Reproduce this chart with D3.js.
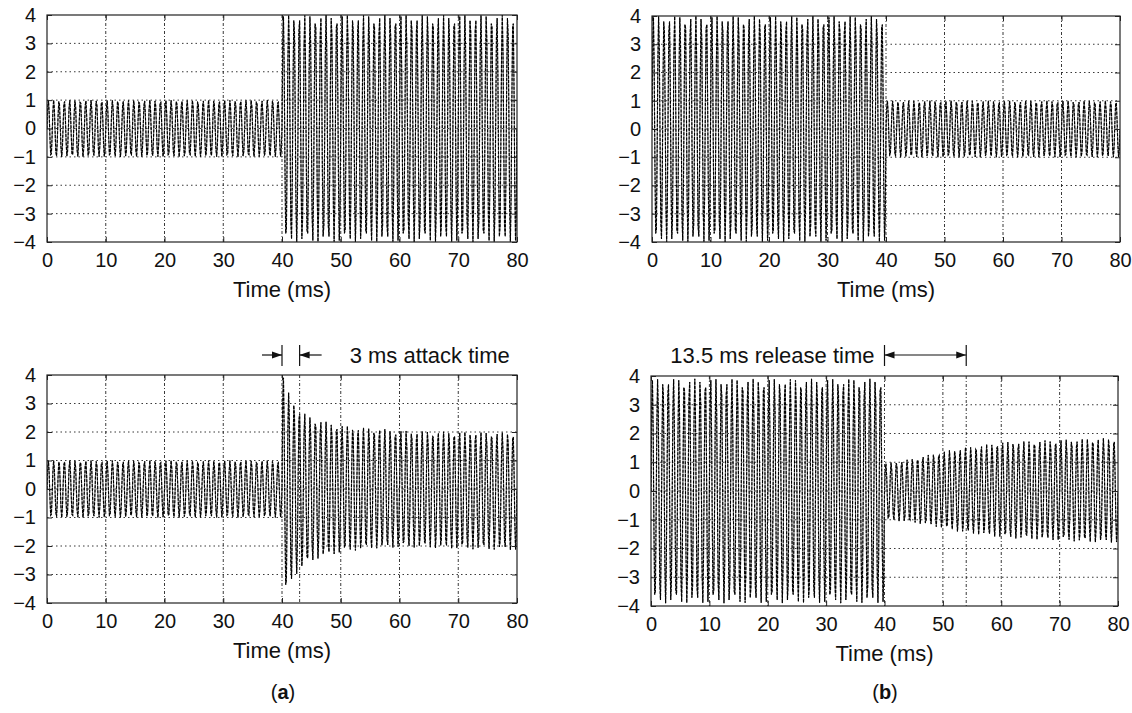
<!DOCTYPE html>
<html>
<head>
<meta charset="utf-8">
<script src="https://cdn.jsdelivr.net/npm/d3@7"></script>
<style>
  html, body { margin: 0; padding: 0; background: #fff; }
  svg { display: block; }
  text { font-family: "Liberation Sans", Arial, Helvetica, sans-serif; fill: #111; }
</style>
</head>
<body>
<svg id="chart" width="1132" height="713"></svg>
<script>
// ---------------- data ----------------
const timeTicks = [0, 10, 20, 30, 40, 50, 60, 70, 80];
const ampTicks = [-4, -3, -2, -1, 0, 1, 2, 3, 4];
const timeDomain = [0, 80];
const ampDomain = [-4, 4];

// carrier of the test tone (kHz) and sampling rate (kHz)
const carrierKHz = 1.1;
const sampleKHz = 8;

// (a) top: input step 1 -> 4
const stepUpT = [0, 40, 40, 80];
const stepUpPos = [1, 1, 4, 4];
const stepUpNeg = [1, 1, 4, 4];

// (b) top: input step 4 -> 1
const stepDownT = [0, 40, 40, 80];
const stepDownPos = [4, 4, 1, 1];
const stepDownNeg = [4, 4, 1, 1];

// (a) bottom: compressor output, attack
const attackT   = [0, 40, 40,  40.5, 41.1, 42.1, 42.9, 43.9, 44.9, 46,   47,   48,   50,   52,   55,   57.5, 60,   63,   70,   80];
const attackPos = [1, 1,  4.0, 3.9,  3.4,  3.05, 2.8,  2.64, 2.52, 2.45, 2.38, 2.33, 2.24, 2.18, 2.14, 2.1,  2.05, 2.03, 2.0,  1.97];
const attackNeg = [1, 1,  3.8, 3.7,  3.4,  3.1,  2.85, 2.7,  2.55, 2.45, 2.4,  2.32, 2.24, 2.17, 2.1,  2.07, 2.05, 2.05, 2.1,  2.15];

// (b) bottom: compressor output, release
const releaseT   = [0,   40,  40,   45,   47.8, 50,   52.4, 54,   56.4, 58.7, 60.4, 65,   70,   75,   80];
const releasePos = [3.9, 3.9, 0.95, 1.13, 1.27, 1.37, 1.47, 1.52, 1.58, 1.66, 1.7,  1.74, 1.78, 1.82, 1.85];
const releaseNeg = [3.9, 3.9, 1.0,  1.1,  1.2,  1.3,  1.4,  1.47, 1.52, 1.58, 1.62, 1.68, 1.72, 1.78, 1.8];

// annotation times (ms)
const attackMarks = [40, 43];
const releaseMarks = [40, 54];
const attackLabel = "3 ms attack time";
const releaseLabel = "13.5 ms release time";
const xLabel = "Time (ms)";

// ---------------- helpers ----------------
function envAt(T, A, t) {
  let i = -1;
  for (let k = 0; k < T.length; k++) if (T[k] <= t) i = k;
  if (i < 0) return A[0];
  if (i >= T.length - 1) return A[A.length - 1];
  const f = (t - T[i]) / (T[i + 1] - T[i]);
  return A[i] + f * (A[i + 1] - A[i]);
}
function buildSignal(T, P, N) {
  const n = Math.round(timeDomain[1] * sampleKHz);
  const pts = [];
  for (let k = 0; k <= n; k++) {
    const t = k / sampleKHz;
    const s = Math.sin(2 * Math.PI * carrierKHz * t);
    const e = s >= 0 ? envAt(T, P, t) : envAt(T, N, t);
    pts.push([t, e * s]);
  }
  return pts;
}

const FONT_TICK = 20;
const FONT_LABEL = 22;

const svg = d3.select("#chart");
const defs = svg.append("defs");
defs.append("marker").attr("id", "arr").attr("viewBox", "0 0 10 10")
  .attr("refX", 10).attr("refY", 5).attr("markerWidth", 10).attr("markerHeight", 10)
  .attr("orient", "auto-start-reverse").attr("markerUnits", "userSpaceOnUse")
  .append("path").attr("d", "M0,1.5 L10,5 L0,8.5 Z").attr("fill", "#111");

const panels = [
  { id: "p1", box: [47, 517, 15, 242], T: stepUpT, P: stepUpPos, N: stepUpNeg },
  { id: "p2", box: [652, 1120, 16, 242], T: stepDownT, P: stepDownPos, N: stepDownNeg },
  { id: "p3", box: [47, 517, 375, 603], T: attackT, P: attackPos, N: attackNeg, marks: [43] },
  { id: "p4", box: [651, 1118, 376, 606], T: releaseT, P: releasePos, N: releaseNeg, marks: [54] }
];

panels.forEach(p => {
  const [x0, x1, y0, y1] = p.box;
  const x = d3.scaleLinear().domain(timeDomain).range([x0, x1]);
  const y = d3.scaleLinear().domain(ampDomain).range([y1, y0]);
  p.x = x; p.y = y;
  const g = svg.append("g");

  defs.append("clipPath").attr("id", "clip-" + p.id)
    .append("rect").attr("x", x0).attr("y", y0).attr("width", x1 - x0).attr("height", y1 - y0);

  // grid
  const grid = g.append("g").attr("stroke", "#222").attr("stroke-width", 0.9).attr("fill", "none");
  timeTicks.slice(1, -1).forEach(t => {
    grid.append("line").attr("x1", x(t)).attr("x2", x(t)).attr("y1", y0).attr("y2", y1)
      .attr("stroke-dasharray", "3,2,1,2");
  });
  ampTicks.slice(1, -1).forEach(v => {
    grid.append("line").attr("x1", x0).attr("x2", x1).attr("y1", y(v)).attr("y2", y(v))
      .attr("stroke-dasharray", "1.5,3");
  });
  (p.marks || []).forEach(t => {
    grid.append("line").attr("x1", x(t)).attr("x2", x(t)).attr("y1", y0).attr("y2", y1)
      .attr("stroke-dasharray", "3,2,1,2");
  });

  // signal
  const data = buildSignal(p.T, p.P, p.N);
  const line = d3.line().x(d => x(d[0])).y(d => y(d[1]));
  const sg = g.append("g").attr("clip-path", "url(#clip-" + p.id + ")");
  sg.append("path").datum(data).attr("d", line)
    .attr("fill", "none").attr("stroke", "#666").attr("stroke-width", 0.9);
  sg.append("path").datum(data).attr("d", line)
    .attr("fill", "none").attr("stroke", "#000").attr("stroke-width", 1.15)
    .attr("stroke-dasharray", "3,1.3");

  // frame
  g.append("rect").attr("x", x0).attr("y", y0).attr("width", x1 - x0).attr("height", y1 - y0)
    .attr("fill", "none").attr("stroke", "#222").attr("stroke-width", 1.2);

  // axes via d3
  const xAxis = d3.axisBottom(x).tickValues(timeTicks).tickSizeInner(-5).tickSizeOuter(0).tickPadding(11);
  const yAxis = d3.axisLeft(y).tickValues(ampTicks).tickSizeInner(-5).tickSizeOuter(0).tickPadding(11)
    .tickFormat(v => v < 0 ? "\u2212" + Math.abs(v) : String(v));
  const xa = g.append("g").attr("transform", `translate(0,${y1})`).call(xAxis);
  const ya = g.append("g").attr("transform", `translate(${x0},0)`).call(yAxis);
  const xt = g.append("g").attr("transform", `translate(0,${y0})`).call(d3.axisTop(x).tickValues(timeTicks).tickSizeInner(-5).tickSizeOuter(0).tickFormat(""));
  const yr = g.append("g").attr("transform", `translate(${x1},0)`).call(d3.axisRight(y).tickValues(ampTicks).tickSizeInner(-5).tickSizeOuter(0).tickFormat(""));
  [xa, ya, xt, yr].forEach(a => {
    a.attr("font-size", FONT_TICK).attr("font-family", '"Liberation Sans", Arial, sans-serif');
    a.select(".domain").remove();
    a.selectAll(".tick line").attr("stroke", "#222").attr("stroke-width", 1);
    a.selectAll("text").attr("fill", "#111");
  });
  xa.selectAll("text").attr("dy", "0.71em");

  g.append("text").attr("x", (x0 + x1) / 2).attr("y", y1 + 55)
    .attr("text-anchor", "middle").attr("font-size", FONT_LABEL).text(xLabel);
});

// attack annotation
{
  const p = panels[2];
  const yA = 355;
  const xa = p.x(attackMarks[0]), xb = p.x(attackMarks[1]);
  const a = svg.append("g").attr("stroke", "#111").attr("stroke-width", 1.2);
  a.append("line").attr("x1", xa).attr("x2", xa).attr("y1", yA - 10).attr("y2", yA + 11);
  a.append("line").attr("x1", xb).attr("x2", xb).attr("y1", yA - 10).attr("y2", yA + 11);
  a.append("line").attr("x1", xa - 20).attr("x2", xa).attr("y1", yA).attr("y2", yA).attr("marker-end", "url(#arr)");
  a.append("line").attr("x1", xb + 22).attr("x2", xb).attr("y1", yA).attr("y2", yA).attr("marker-end", "url(#arr)");
  svg.append("text").attr("x", xb + 50).attr("y", yA + 8).attr("font-size", FONT_LABEL).text(attackLabel);
}
// release annotation
{
  const p = panels[3];
  const yA = 355;
  const xa = p.x(releaseMarks[0]), xb = p.x(releaseMarks[1]);
  const a = svg.append("g").attr("stroke", "#111").attr("stroke-width", 1.2);
  a.append("line").attr("x1", xa).attr("x2", xa).attr("y1", yA - 10).attr("y2", yA + 11);
  a.append("line").attr("x1", xb).attr("x2", xb).attr("y1", yA - 10).attr("y2", yA + 11);
  a.append("line").attr("x1", xa).attr("x2", xb).attr("y1", yA).attr("y2", yA)
    .attr("marker-start", "url(#arr)").attr("marker-end", "url(#arr)");
  svg.append("text").attr("x", xa - 10).attr("y", yA + 8).attr("text-anchor", "end")
    .attr("font-size", FONT_LABEL).text(releaseLabel);
}

// sub-figure labels
[["a", 283], ["b", 885]].forEach(([s, cx]) => {
  const t = svg.append("text").attr("x", cx).attr("y", 699).attr("text-anchor", "middle").attr("font-size", 20);
  t.append("tspan").text("(");
  t.append("tspan").attr("font-weight", "bold").text(s);
  t.append("tspan").text(")");
});
</script>
</body>
</html>
